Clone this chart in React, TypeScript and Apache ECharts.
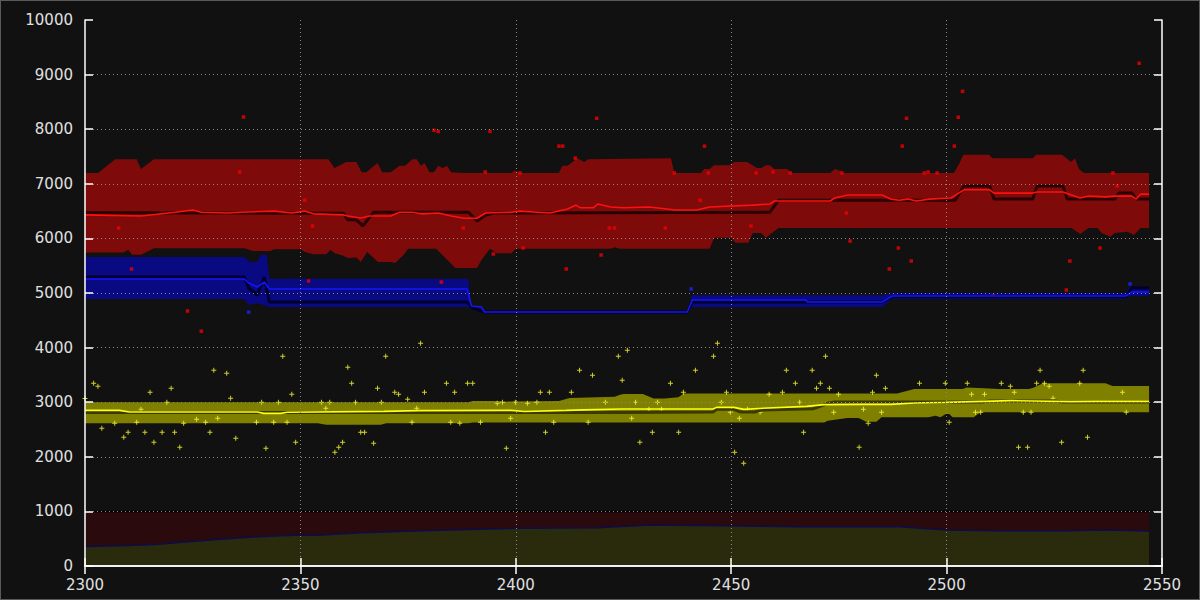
import React, { useEffect, useRef } from "react";
import * as echarts from "echarts";

// ---- axes ----
const X_MIN = 2300;
const X_MAX = 2550;
const X_STEP = 50;
const Y_MIN = 0;
const Y_MAX = 10000;
const Y_STEP = 1000;

// ---- red group ----
const redUpper: number[][] = [
  [2300, 7200], [2303, 7200], [2307, 7450], [2312, 7450], [2313, 7270], [2316, 7450],
  [2356.5, 7450], [2357.9, 7290], [2359, 7330], [2360.6, 7400], [2363, 7400], [2364.2, 7210],
  [2365.3, 7210], [2367.9, 7380], [2369, 7210], [2371, 7210], [2373, 7330], [2374.3, 7330],
  [2376, 7450], [2377, 7450], [2378, 7330], [2378.8, 7380], [2380, 7210], [2381, 7210],
  [2382, 7330], [2383, 7290], [2384, 7330], [2385, 7210], [2387.6, 7200], [2399, 7200],
  [2399.7, 7250], [2401, 7200], [2410, 7200], [2410.8, 7330], [2412, 7330], [2414.3, 7470],
  [2415.9, 7400], [2416.8, 7450], [2436, 7470], [2436.8, 7200], [2443, 7200], [2443.7, 7270],
  [2445, 7270], [2446, 7340], [2449.5, 7340], [2450.7, 7400], [2453.7, 7400], [2456, 7290],
  [2457, 7290], [2458, 7340], [2459, 7340], [2460, 7270], [2463, 7270], [2464, 7200],
  [2473, 7200], [2474, 7270], [2475, 7250], [2475.8, 7200], [2501.7, 7200], [2503, 7380],
  [2503.9, 7530], [2509.9, 7530], [2510.6, 7470], [2520, 7470], [2520.8, 7530], [2526.8, 7530],
  [2528.9, 7400], [2529.8, 7470], [2530.7, 7270], [2531.9, 7200], [2547, 7200],
];
const redLower: number[][] = [
  [2300, 5740], [2309, 5740], [2310, 5790], [2311, 5700], [2313, 5700], [2316, 5820],
  [2337, 5820], [2339, 5770], [2343, 5770], [2344, 5800], [2350, 5800], [2351, 5750],
  [2353, 5710], [2356, 5710], [2357, 5790], [2358, 5730], [2360, 5680], [2361, 5640],
  [2363, 5650], [2364, 5570], [2365.5, 5750], [2368, 5570], [2371, 5570], [2372, 5550],
  [2374, 5700], [2375, 5810], [2381.5, 5810], [2386, 5460], [2391, 5460], [2392, 5600],
  [2394, 5810], [2395.5, 5730], [2399, 5730], [2400, 5810], [2422, 5810], [2423, 5840],
  [2424, 5810], [2445, 5810], [2446, 6010], [2450, 6010], [2451, 5920], [2454, 5920],
  [2455, 6100], [2457, 6100], [2458, 6010], [2461, 6190], [2529, 6190], [2531, 6080],
  [2533, 6190], [2535, 6190], [2536, 6100], [2538, 6030], [2539, 6100], [2542, 6120],
  [2543.5, 6060], [2545, 6190], [2547, 6190],
];
const redMedian: number[][] = [
  [2300, 6470], [2360, 6460], [2361, 6340], [2363, 6340], [2364.5, 6230], [2367, 6480],
  [2389, 6480], [2391, 6320], [2393, 6430], [2395, 6465], [2459, 6480], [2461, 6700],
  [2502, 6700], [2504, 6960], [2510, 6960], [2511, 6720], [2520, 6720], [2521, 6960],
  [2527, 6960], [2528, 6720], [2539, 6720], [2540, 6830], [2543, 6830], [2544, 6720],
  [2547, 6720],
];
const redMean: number[][] = [
  [2300, 6430], [2313, 6410], [2321, 6480], [2325, 6520], [2327, 6480], [2333, 6465],
  [2336, 6480], [2344, 6500], [2348, 6465], [2351, 6500], [2353, 6450], [2360, 6430],
  [2361, 6410], [2364, 6375], [2366, 6410], [2371, 6410], [2373, 6480], [2376, 6480],
  [2378, 6450], [2382, 6465], [2385, 6410], [2388, 6370], [2391, 6370], [2393, 6465],
  [2399, 6480], [2401, 6500], [2405, 6480], [2408, 6465], [2412, 6540], [2414, 6610],
  [2415, 6560], [2418, 6560], [2419, 6630], [2422, 6575], [2425, 6560], [2431, 6575],
  [2437, 6520], [2442, 6520], [2445, 6575], [2455, 6610], [2459, 6630], [2460, 6685],
  [2473, 6685], [2474, 6740], [2476, 6775], [2477, 6795], [2485, 6795], [2487, 6720],
  [2489, 6700], [2491, 6720], [2493, 6685], [2496, 6720], [2501, 6740], [2504, 6890],
  [2510, 6890], [2511, 6830], [2520, 6830], [2521, 6850], [2527, 6850], [2529, 6795],
  [2531, 6740], [2533, 6775], [2537, 6760], [2539, 6775], [2543, 6775], [2544, 6720],
  [2545, 6810], [2547, 6810],
];
const redPoints: number[][] = [
  [2307.8, 6190], [2310.8, 5440], [2323.8, 4670], [2327, 4300], [2335.9, 7216], [2336.8, 8223],
  [2351, 6700], [2351.9, 5220], [2352.8, 6227], [2381, 7980], [2382, 7960], [2382.7, 5200],
  [2387.8, 6190], [2392.9, 7216], [2394, 7960], [2394.8, 5714], [2401, 7198], [2401.7, 5824],
  [2410, 7690], [2410.9, 7690], [2411.7, 5440], [2413.8, 7470], [2418.8, 8200], [2419.8, 5696],
  [2421.7, 6190], [2422.9, 6190], [2434.7, 6190], [2436.8, 7198], [2442.8, 6700], [2443.8, 7690],
  [2444.7, 7198], [2454.6, 6227], [2455.8, 7198], [2459.7, 7216], [2463.7, 7198], [2475.7, 7198],
  [2476.7, 6465], [2477.6, 5952], [2486.7, 5440], [2488.8, 5824], [2489.7, 7690], [2490.7, 8200],
  [2491.8, 5586], [2494.8, 7198], [2495.7, 7216], [2497.8, 7198], [2501.8, 7690], [2502.7, 8218],
  [2503.7, 8694], [2510.8, 4945], [2527.8, 5055], [2528.6, 5586], [2535.6, 5824], [2538.6, 7198],
  [2539.6, 6960], [2544.7, 9207],
];

// ---- blue group (two band segments) ----
const blueUpper1: number[][] = [
  [2300, 5660], [2337, 5660], [2338.3, 5570], [2340, 5570], [2340.8, 5700], [2342.2, 5700],
  [2342.8, 5260], [2389, 5260], [2389.4, 4900],
];
const blueLower1: number[][] = [
  [2300, 4890], [2337, 4890], [2338, 4780], [2340, 4810], [2342.8, 4745], [2389.4, 4745],
];
const blueUpper2: number[][] = [
  [2440.7, 4960], [2485, 4960], [2487.4, 5000], [2541.6, 5000], [2542.3, 5110], [2547, 5110],
];
const blueLower2: number[][] = [
  [2440.7, 4745], [2485, 4745], [2487.4, 4890], [2541.6, 4890], [2542.3, 4945], [2547, 4945],
];
const blueMedian: number[][] = [
  [2300, 5293], [2337, 5293], [2338, 5092], [2340, 4963], [2341.6, 5293], [2342.8, 4835],
  [2388.7, 4835], [2390, 4725], [2392.7, 4652], [2439.8, 4652], [2441, 4835], [2485, 4835],
  [2487.4, 4930], [2541.6, 4930], [2543, 5090], [2547, 5090],
];
const blueMean: number[][] = [
  [2300, 5256], [2337, 5256], [2338, 5183], [2340, 5110], [2341.6, 5200], [2342.8, 5073],
  [2388.7, 5073], [2389.7, 4762], [2392, 4745], [2392.7, 4652], [2439.8, 4652], [2441, 4872],
  [2467.4, 4872], [2467.6, 4835], [2485, 4835], [2487.4, 4945], [2541.6, 4945], [2543, 5018],
  [2547, 5018],
];
const bluePoints: number[][] = [[2338, 4650], [2440.7, 5073], [2542.6, 5165]];

// ---- yellow group ----
const yellowUpper: number[][] = [
  [2300, 3000], [2389, 3000], [2390, 3020], [2396, 3020], [2397, 3010], [2410, 3020],
  [2412.5, 3077], [2423, 3100], [2424, 3130], [2425, 3150], [2429.5, 3150], [2432, 3070],
  [2434.5, 3070], [2437.7, 3090], [2439, 3160], [2488.5, 3160], [2492.5, 3240], [2503.8, 3240],
  [2504.6, 3270], [2510, 3250], [2512, 3240], [2519, 3240], [2520, 3260], [2522.4, 3345],
  [2536.9, 3345], [2538.5, 3296], [2547, 3296],
];
const yellowLower: number[][] = [
  [2300, 2615], [2354, 2615], [2356, 2585], [2368.6, 2585], [2370, 2615], [2389, 2615],
  [2390, 2630], [2471.6, 2630], [2472.4, 2661], [2477, 2710], [2479.6, 2710], [2481.3, 2640],
  [2483.7, 2640], [2484.9, 2723], [2495.8, 2723], [2497.4, 2750], [2498.6, 2723], [2499.8, 2784],
  [2500.6, 2784], [2501.4, 2723], [2506.3, 2723], [2507.9, 2814], [2547, 2814],
];
const yellowMedian: number[][] = [
  [2300, 2810], [2424, 2810], [2445.8, 2820], [2446.6, 2869], [2450.6, 2869], [2452.2, 2820],
  [2455.5, 2820], [2457, 2855], [2469, 2880], [2470.8, 2930], [2472.4, 2980], [2474, 3004],
  [2508, 3004], [2510, 3022], [2525, 3022], [2527, 3004], [2547, 3004],
];
const yellowMean: number[][] = [
  [2300, 2850], [2308, 2850], [2310.3, 2820], [2340, 2820], [2341.5, 2795], [2345.4, 2795],
  [2347, 2815], [2369.4, 2832], [2377.4, 2845], [2399, 2850], [2402, 2830], [2411.7, 2850],
  [2415.7, 2860], [2424.5, 2875], [2445.8, 2875], [2446.6, 2905], [2450.6, 2905], [2453, 2869],
  [2456.3, 2885], [2467.5, 2924], [2471.6, 2955], [2480.5, 2960], [2487, 2960], [2492.5, 2985],
  [2499.8, 2997], [2508.7, 3015], [2515, 3028], [2520, 3022], [2528.8, 3010], [2535, 3015],
  [2547, 3015],
];
const yellowPoints: number[][] = [
  [2300, 3070], [2302, 3345], [2303, 3290], [2303.9, 2521], [2306.9, 2613], [2309, 2356],
  [2310, 2448], [2312, 2631], [2313, 2869], [2313.9, 2448], [2315.1, 3180], [2316, 2265],
  [2317.9, 2448], [2319, 2997], [2320, 3254], [2320.8, 2448], [2322, 2173], [2322.9, 2613],
  [2325.9, 2686], [2328, 2631], [2329, 2448], [2329.9, 3583], [2330.8, 2704], [2332.9, 3528],
  [2333.8, 3071], [2335, 2338], [2339.8, 2631], [2341, 2997], [2342, 2155], [2343.8, 2631],
  [2344.9, 2997], [2345.9, 3840], [2346.9, 2631], [2348, 3144], [2348.9, 2265], [2354.9, 2997],
  [2355.9, 2887], [2356.8, 2997], [2358, 2082], [2358.9, 2173], [2359.8, 2265], [2361, 3638],
  [2361.9, 3345], [2362.8, 2997], [2364, 2448], [2364.9, 2448], [2367, 2246], [2367.9, 3254],
  [2368.8, 2997], [2369.8, 3840], [2371.9, 3180], [2372.8, 3144], [2374.9, 3052], [2375.9, 2631],
  [2377, 2887], [2377.9, 4078], [2378.8, 3180], [2383.9, 3345], [2384.9, 2631], [2385.8, 3180],
  [2387, 2613], [2388.8, 3345], [2390, 3345], [2391.8, 2631], [2395.7, 2979], [2396.9, 2997],
  [2397.8, 2155], [2398.8, 2704], [2399.9, 2997], [2402.7, 2979], [2404.9, 2997], [2405.7, 3180],
  [2406.9, 2448], [2407.8, 3180], [2408.8, 2631], [2412.9, 3180], [2414.8, 3583], [2416.8, 2631],
  [2417.8, 3492], [2420.8, 2997], [2423.8, 3840], [2424.7, 3400], [2425.9, 3950], [2426.9, 2704],
  [2427.8, 2997], [2428.8, 2265], [2430.9, 2869], [2431.7, 2448], [2432.9, 2997], [2433.8, 2869],
  [2435.9, 3345], [2437.8, 2448], [2438.9, 3180], [2441.7, 3583], [2445.9, 3840], [2446.8, 4078],
  [2447.7, 2997], [2448.9, 3180], [2449.8, 2814], [2450.8, 2082], [2451.9, 2704], [2452.9, 1880],
  [2453.8, 2869], [2456.7, 2814], [2458.8, 3144], [2461.9, 3180], [2462.8, 3583], [2464.9, 3345],
  [2465.9, 2997], [2466.8, 2448], [2468.8, 3583], [2469.8, 3254], [2470.7, 3345], [2471.9, 3840],
  [2472.8, 3254], [2473.8, 2814], [2474.9, 3144], [2479.7, 2173], [2480.7, 2869], [2481.8, 2613],
  [2482.8, 3180], [2483.7, 3492], [2484.9, 2814], [2485.8, 3254], [2493.7, 3345], [2499.7, 3345],
  [2500.6, 2631], [2504.8, 3345], [2505.8, 3144], [2506.7, 2814], [2507.9, 2814], [2508.8, 3144],
  [2512.7, 3345], [2514.8, 3290], [2515.7, 3180], [2516.7, 2173], [2517.8, 2814], [2518.8, 2173],
  [2519.6, 2814], [2520.9, 3345], [2521.7, 3583], [2522.7, 3345], [2523.8, 3290], [2524.7, 3071],
  [2526.7, 2265], [2530.9, 3345], [2531.7, 3583], [2532.7, 2356], [2540.8, 3180], [2541.7, 2814],
];

// ---- bottom areas ----
const capacityLevel: number[][] = [[2300, 1000], [2547, 1000]];
const baseLevel: number[][] = [
  [2300, 355], [2310, 375], [2317, 397], [2329, 476], [2340, 537], [2350, 568], [2354, 563],
  [2364, 610], [2380, 650], [2400, 690], [2419, 702], [2431, 750], [2443, 744], [2466, 720],
  [2489, 720], [2500, 659], [2512, 647], [2528, 647], [2537, 659], [2547, 641],
];

const FONT = "'DejaVu Sans', sans-serif";
const PLUS = "path://M2,0h1v2h2v1h-2v2h-1v-2h-2v-1h2z";

function band(name: string, segments: number[][][][], color: string): any {
  return {
    type: "custom",
    name,
    silent: true,
    clip: true,
    data: [segments[0][0][0]],
    renderItem: (_params: any, api: any) => ({
      type: "group",
      children: segments.map(([up, low]) => ({
        type: "polygon",
        shape: {
          points: up.map((p) => api.coord(p)).concat(low.slice().reverse().map((p) => api.coord(p))),
        },
        style: { fill: color },
      })),
    }),
  };
}

function line(name: string, data: number[][], color: string, width: number): any {
  return {
    type: "line",
    name,
    data,
    silent: true,
    symbol: "none",
    lineStyle: { color, width },
  };
}

function scatter(name: string, data: number[][], color: string, symbol: string, size: number): any {
  return {
    type: "scatter",
    name,
    data,
    silent: true,
    symbol,
    symbolSize: size,
    itemStyle: { color },
  };
}

export default function App() {
  const ref = useRef<HTMLDivElement>(null);
  useEffect(() => {
    document.body.style.margin = "0";
    const chart = echarts.init(ref.current!, null, { renderer: "svg" });
    const gridLine = { show: true, showMinLine: false, showMaxLine: false, lineStyle: { color: "#8a8a8a", width: 1, type: [1, 3] } };
    const tick = { show: true, inside: true, length: 8, lineStyle: { color: "#ffffff", width: 1.5 } };
    const axLine = { show: true, lineStyle: { color: "#ffffff", width: 1.5 } };
    const plain = (v: number) => String(v);
    chart.setOption({
      animation: false,
      backgroundColor: "#111111",
      grid: { left: 85, right: 38, top: 20, bottom: 34 },
      xAxis: [
        {
          type: "value", min: X_MIN, max: X_MAX, interval: X_STEP, position: "bottom", z: 10,
          axisLine: axLine, axisTick: tick, splitLine: gridLine,
          axisLabel: { color: "#e0e0e0", fontSize: 15, lineHeight: 15, fontFamily: FONT, margin: 11, formatter: plain },
        },
        {
          type: "value", min: X_MIN, max: X_MAX, interval: X_STEP, position: "top", z: 10,
          axisLine: axLine, axisTick: tick, splitLine: { show: false }, axisLabel: { show: false },
        },
      ],
      yAxis: [
        {
          type: "value", min: Y_MIN, max: Y_MAX, interval: Y_STEP, position: "left", z: 10,
          axisLine: axLine, axisTick: tick, splitLine: gridLine,
          axisLabel: { color: "#e0e0e0", fontSize: 15, lineHeight: 15, fontFamily: FONT, margin: 12, formatter: plain },
        },
        {
          type: "value", min: Y_MIN, max: Y_MAX, interval: Y_STEP, position: "right", z: 10,
          axisLine: axLine, axisTick: tick, splitLine: { show: false }, axisLabel: { show: false },
        },
      ],
      series: [
        band("redBand", [[redUpper, redLower]], "#7f0a0a"),
        line("redMedian", redMedian, "#2a0000", 3),
        line("redMean", redMean, "#ff1010", 1.6),
        scatter("redPoints", redPoints, "#ee0000", "rect", 3.5),
        band("blueBand", [[blueUpper1, blueLower1], [blueUpper2, blueLower2]], "rgba(5,5,205,0.6)"),
        line("blueMedian", blueMedian, "#00002a", 3),
        line("blueMean", blueMean, "#1414ff", 1.6),
        scatter("bluePoints", bluePoints, "#2020ff", "rect", 3.5),
        band("yellowBand", [[yellowUpper, yellowLower]], "#7f7f00"),
        line("yellowMedian", yellowMedian, "#3a3a00", 3),
        line("yellowMean", yellowMean, "#ffff10", 1.6),
        scatter("yellowPoints", yellowPoints, "#ffff30", PLUS, 5),
        {
          ...line("capacity", capacityLevel, "#000000", 1.5),
          areaStyle: { color: "#2a0a0c", opacity: 1 },
        },
        {
          ...line("base", baseLevel, "#0c0c4c", 1.5),
          areaStyle: { color: "#2a2a0c", opacity: 1 },
        },
      ],
    });
    return () => chart.dispose();
  }, []);
  return (
    <>
      <div ref={ref} style={{ position: "fixed", left: 0, top: 0, width: 1200, height: 600 }} />
      <div
        style={{
          position: "fixed", left: 0, top: 0, width: 1200, height: 600, boxSizing: "border-box",
          border: "1px solid #5a5a5a", pointerEvents: "none",
        }}
      />
    </>
  );
}
